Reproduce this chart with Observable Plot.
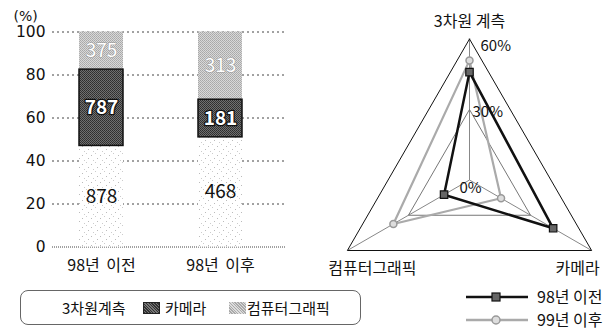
<!DOCTYPE html>
<html><head><meta charset="utf-8">
<script src="https://cdn.jsdelivr.net/npm/d3@7"></script>
<script src="https://cdn.jsdelivr.net/npm/@observablehq/plot@0.6"></script>
<style>
html,body{margin:0;padding:0;background:#fff;}
body{width:612px;height:330px;position:relative;overflow:hidden;font-family:"Noto Sans CJK KR","Noto Sans",sans-serif;color:#111;}
#bars{position:absolute;left:0;top:0;}
#bars text{word-spacing:3px;}
#radar{position:absolute;left:300px;top:0;}
.legbox{position:absolute;left:20px;top:290px;width:341px;height:35px;border:1px solid #666;border-radius:8px;box-sizing:border-box;}
.lt{position:absolute;font-size:15px;line-height:18px;white-space:nowrap;}
.sw{position:absolute;width:17px;height:12px;}
</style></head><body>
<svg width="0" height="0" style="position:absolute">
 <defs>
  <pattern id="dots" width="9" height="9" patternUnits="userSpaceOnUse">
   <rect width="9" height="9" fill="#fff"/>
   <rect x="1" y="2" width="1" height="1" fill="#bbb"/>
   <rect x="5" y="0" width="1" height="1" fill="#ccc"/>
   <rect x="7" y="5" width="1" height="1" fill="#bbb"/>
   <rect x="3" y="7" width="1" height="1" fill="#ccc"/>
  </pattern>
  <pattern id="dark" width="2" height="2" patternUnits="userSpaceOnUse">
   <rect width="2" height="2" fill="#707070"/>
   <rect width="1" height="1" fill="#2e2e2e"/>
   <rect x="1" y="1" width="1" height="1" fill="#363636"/>
  </pattern>
  <pattern id="light" width="2" height="2" patternUnits="userSpaceOnUse">
   <rect width="2" height="2" fill="#d8d8d8"/>
   <rect width="1" height="1" fill="#a8a8a8"/>
   <rect x="1" y="1" width="1" height="1" fill="#b0b0b0"/>
  </pattern>
 </defs>
</svg>
<div id="bars"></div>
<div id="radar"></div>
<div class="legbox"></div>
<span class="lt" style="left:62px;top:299px">3차원계측</span>
<span class="sw" style="left:143px;top:302px;background:repeating-linear-gradient(45deg,#333 0 1px,#777 1px 2px);border:1px solid #222;box-sizing:border-box"></span>
<span class="lt" style="left:165px;top:299px">카메라</span>
<span class="sw" style="left:229px;top:302px;background:repeating-linear-gradient(45deg,#aaa 0 1px,#ddd 1px 2px)"></span>
<span class="lt" style="left:247px;top:299px">컴퓨터그래픽</span>
<svg style="position:absolute;left:460px;top:286px" width="76" height="44">
 <line x1="6" x2="68" y1="11" y2="11" stroke="#111" stroke-width="2.5"/>
 <rect x="32" y="7" width="8" height="8" fill="#666" stroke="#111" stroke-width="1.2"/>
 <line x1="6" x2="68" y1="34" y2="34" stroke="#aaa" stroke-width="2.5"/>
 <circle cx="36" cy="34" r="4" fill="#ddd" stroke="#999" stroke-width="1.5"/>
</svg>
<span class="lt" style="left:537px;top:287px;font-size:16px">98년 이전</span>
<span class="lt" style="left:537px;top:310px;font-size:16px">99년 이후</span>
<script>
// ---- bar chart data ----
const groups = ["98년 이전", "98년 이후"];
const series = ["3차원계측", "카메라", "컴퓨터그래픽"];
const share3D = [47, 51];        // % (bar height as drawn)
const shareCamera = [35.5, 17.5];
const shareCG = [17.5, 31.5];
const count3D = [878, 468];      // labels
const countCamera = [787, 181];
const countCG = [375, 313];
const yTicks = [0, 20, 40, 60, 80, 100];

// ---- radar data ----
const radarAxes = ["3차원 계측", "카메라", "컴퓨터그래픽"];
const radarAngles = [90, -30, 210];
const radarBefore = [45.9, 41.1, 12.5]; // 98년 이전 (%)
const radarAfter = [50.9, 15.5, 37.4];  // 99년 이후 (%)
const radarRingLabels = ["0%", "30%", "60%"];
const radarRingValues = [0, 30, 60];

const FONT = '"Noto Sans CJK KR","Noto Sans",sans-serif';

// build stacked rows
const shares = [share3D, shareCamera, shareCG];
const counts = [count3D, countCamera, countCG];
const rows = [];
groups.forEach((g, gi) => {
  let acc = 0;
  series.forEach((s, si) => {
    const v = shares[si][gi];
    rows.push({group: g, series: s, y1: acc, y2: acc + v, ym: acc + v / 2, count: counts[si][gi]});
    acc += v;
  });
});

const bars = Plot.plot({
  width: 300, height: 285,
  marginLeft: 52, marginRight: 15, marginTop: 31.5, marginBottom: 38.5,
  style: {fontFamily: FONT, fontSize: "16px", color: "#111", background: "transparent", overflow: "visible"},
  x: {domain: groups, paddingInner: 0.633, paddingOuter: 0.2875, align: 0.39, tickSize: 0, tickPadding: 13, label: null},
  y: {domain: [0, 100], ticks: yTicks, tickSize: 0, tickPadding: 7, label: null, axis: null},
  color: {type: "ordinal", domain: series, range: ["url(#dots)", "url(#dark)", "url(#light)"]},
  marks: [
    Plot.ruleY(yTicks.filter(d => d > 0), {stroke: "#444", strokeDasharray: "2,3", strokeWidth: 1}),
    Plot.ruleY([0], {stroke: "#444", strokeDasharray: "1,1", strokeWidth: 1}),
    Plot.axisY(yTicks, {tickSize: 0, tickPadding: 7, fontFamily: '"DejaVu Sans",sans-serif', fontSize: 15.5, label: null}),
    Plot.barY(rows, {x: "group", y1: "y1", y2: "y2", fill: "series"}),
    Plot.barY(rows.filter(d => d.series === "카메라"), {x: "group", y1: "y1", y2: "y2", fill: "none", stroke: "#111", strokeWidth: 1.5}),
    Plot.text(rows.filter(d => d.series === "3차원계측"), {x: "group", y: "ym", text: "count", fill: "#111", fontSize: 19}),
    Plot.text(rows.filter(d => d.series === "카메라"), {x: "group", y: "ym", text: "count", fill: "#fff", stroke: "#111", strokeWidth: 2.5, paintOrder: "stroke", fontWeight: "bold", fontSize: 19}),
    Plot.text(rows.filter(d => d.series === "컴퓨터그래픽"), {x: "group", y: "ym", text: "count", fill: "#fff", stroke: "#999", strokeWidth: 1, paintOrder: "stroke", fontSize: 19}),
    Plot.text(["(%)"], {frameAnchor: "top-left", dx: -39, dy: -21, fontSize: 14, fontFamily: '"DejaVu Sans",sans-serif', textAnchor: "start"})
  ]
});
document.getElementById("bars").appendChild(bars);

// ---- radar ----
const K = 141 / 60;            // px per percent
const CX = 169, CY = 179.5;    // centre in local pixels
const W = 312, H = 285;
const rad = i => radarAngles[i] * Math.PI / 180;
const pt = (v, i) => ({x: v * Math.cos(rad(i)), y: v * Math.sin(rad(i))});
const poly = vals => [0, 1, 2, 0].map(i => pt(vals[i], i));
const ringOuter = poly([60, 60, 60]);
const ringMid = poly([30, 30, 30]);
const spokes = radarAxes.map((a, i) => ({x1: 0, y1: 0, x2: pt(60, i).x, y2: pt(60, i).y}));
const before = radarBefore.map((v, i) => pt(v, i));
const after = radarAfter.map((v, i) => pt(v, i));
const axisLabels = radarAxes.map((a, i) => ({label: a, ...pt(60, i)}));
const ringLabels = radarRingValues.map((v, j) => ({label: radarRingLabels[j], ...pt(v, 0)}));

const radar = Plot.plot({
  width: W, height: H,
  marginLeft: 0, marginRight: 0, marginTop: 0, marginBottom: 0,
  style: {fontFamily: FONT, fontSize: "16px", color: "#111", background: "transparent", overflow: "visible"},
  x: {domain: [-CX / K, (W - CX) / K], range: [0, W], axis: null},
  y: {domain: [-(H - CY) / K, CY / K], range: [H, 0], axis: null},
  marks: [
    Plot.link(spokes, {x1: "x1", y1: "y1", x2: "x2", y2: "y2", stroke: "#888", strokeWidth: 1}),
    Plot.line(ringMid, {x: "x", y: "y", stroke: "#777", strokeWidth: 1}),
    Plot.line(ringOuter, {x: "x", y: "y", stroke: "#111", strokeWidth: 1}),
    Plot.line([...after, after[0]], {x: "x", y: "y", stroke: "#aaa", strokeWidth: 2.2}),
    Plot.line([...before, before[0]], {x: "x", y: "y", stroke: "#111", strokeWidth: 2.5}),
    Plot.dot(after, {x: "x", y: "y", r: 3.5, fill: "#ddd", stroke: "#999", strokeWidth: 1.5}),
    Plot.dot(before, {x: "x", y: "y", symbol: "square", r: 4.2, fill: "#666", stroke: "#111", strokeWidth: 1.2}),
    Plot.text(axisLabels.filter((d, i) => i === 0), {x: "x", y: "y", text: "label", dy: -17, fontSize: 16}),
    Plot.text(axisLabels.filter((d, i) => i === 1), {x: "x", y: "y", text: "label", dx: -14, dy: 18, fontSize: 16}),
    Plot.text(axisLabels.filter((d, i) => i === 2), {x: "x", y: "y", text: "label", dx: 25, dy: 18, fontSize: 16}),
    Plot.text(ringLabels.filter((d, j) => j === 0), {x: "x", y: "y", text: "label", textAnchor: "start", dx: -10, dy: 8, fontSize: 15}),
    Plot.text(ringLabels.filter((d, j) => j === 1), {x: "x", y: "y", text: "label", textAnchor: "start", dx: 3, dy: 3, fontSize: 15}),
    Plot.text(ringLabels.filter((d, j) => j === 2), {x: "x", y: "y", text: "label", textAnchor: "start", dx: 11, dy: 7, fontSize: 15})
  ]
});
document.getElementById("radar").appendChild(radar);
</script>
</body></html>
